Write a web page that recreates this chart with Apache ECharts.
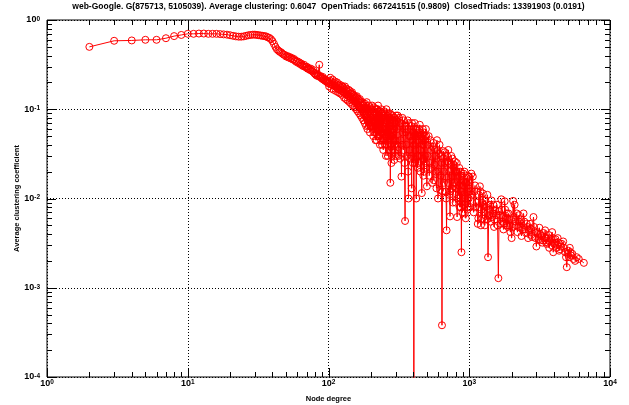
<!DOCTYPE html>
<html><head><meta charset="utf-8">
<script src="https://cdn.jsdelivr.net/npm/echarts@6/dist/echarts.min.js"></script>
<style>html,body{margin:0;padding:0;background:#fff}#c{width:629px;height:405px}</style>
</head><body><div id="c"></div>
<script>
const titleText = 'web-Google. G(875713, 5105039). Average clustering: 0.6047  OpenTriads: 667241515 (0.9809)  ClosedTriads: 13391903 (0.0191)';
const xAxisName = 'Node degree';
const yAxisName = 'Average clustering coefficient';

// [node degree, average clustering coefficient]
const headPoints = [
  [2,0.50],[3,0.585],[4,0.59],[5,0.60],[6,0.60],[7,0.625],[8,0.66],[9,0.68],[10,0.70],
  [11,0.70],[12,0.705],[13,0.705],[14,0.70],[15,0.70],[16,0.70],[17,0.695],[18,0.69],[19,0.685],[20,0.675],
  [21,0.665],[22,0.655],[23,0.65],[24,0.65],[25,0.655],[26,0.665],[27,0.675],[28,0.68],[29,0.685],[30,0.685],
  [31,0.68],[32,0.675],[33,0.67],[34,0.665],[35,0.66],[36,0.655],[37,0.64],[38,0.63],[39,0.61],[40,0.58]
];
const kneePoints = [
  [41,0.54],[42,0.50],[43,0.47],[44,0.455],[45,0.44],[46,0.435],[47,0.42],[48,0.41],[49,0.405],[50,0.39],
  [51,0.395],[52,0.38],[53,0.385],[54,0.37],[55,0.375],[56,0.36],[57,0.365],[58,0.35],[59,0.34],[60,0.345],
  [61,0.33],[62,0.335],[63,0.32],[64,0.325],[65,0.31],[66,0.305],[67,0.315],[68,0.30],[69,0.295],[70,0.30],
  [71,0.285],[72,0.29],[73,0.28],[74,0.275],[75,0.285],[76,0.27],[77,0.265],[78,0.275],[79,0.255],[80,0.25],
  [81,0.245],[82,0.24],[83,0.25],[84,0.235],[85,0.24],[86,0.315],[87,0.23],[88,0.235],[89,0.225],[90,0.22],
  [91,0.23],[92,0.215],[93,0.22],[94,0.21],[95,0.215],[96,0.205],[97,0.21],[98,0.20],[99,0.205],[100,0.195]
];
const midPoints = [
  [102,0.21],[104,0.19],[106,0.20],[108,0.185],[110,0.195],[112,0.18],[114,0.19],[116,0.17],[118,0.185],[120,0.165],
  [122,0.175],[124,0.16],[126,0.18],[128,0.155],[130,0.165],[132,0.15],[134,0.17],[136,0.145],[138,0.155],[140,0.14],
  [142,0.16],[144,0.13],[146,0.15],[148,0.135],[150,0.145],[152,0.125],[154,0.14],[156,0.12],[158,0.135],[160,0.115],
  [162,0.13],[164,0.11],[166,0.125],[168,0.105],[170,0.12],[172,0.10],[174,0.115],[176,0.095],[178,0.11],[180,0.09],
  [182,0.115],[184,0.085],[186,0.105],[188,0.08],[190,0.10],[192,0.075],[194,0.11],[196,0.07],[198,0.105],[200,0.065],
  [203,0.10],[206,0.06],[209,0.095],[212,0.055],[215,0.09],[218,0.065],[221,0.10],[224,0.05],[227,0.085],[230,0.06],
  [233,0.095],[236,0.045],[239,0.08],[242,0.055],[245,0.035],[248,0.075],[251,0.09],[254,0.05],[257,0.08],[260,0.04],
  [263,0.085],[266,0.055],[269,0.075],[272,0.045],[275,0.015],[278,0.087],[281,0.05],[284,0.07],[287,0.035],[290,0.08],
  [293,0.027],[296,0.065],[299,0.045],[302,0.085]
];
const midPointsB = [
  [101,0.18],[103,0.225],[105,0.17],[107,0.215],[109,0.165],[111,0.205],[113,0.16],[115,0.2],[117,0.155],[119,0.19],
  [121,0.15],[123,0.185],[125,0.145],[127,0.175],[129,0.135],[131,0.18],[133,0.13],[135,0.16],[137,0.125],[139,0.165],
  [141,0.12],[143,0.15],[145,0.115],[147,0.155],[149,0.11],[151,0.14],[153,0.105],[155,0.13],[157,0.1],[159,0.14],
  [161,0.095],[163,0.12],[165,0.09],[167,0.13],[169,0.085],[171,0.11],[173,0.08],[175,0.12],[177,0.075],[179,0.105],
  [181,0.07],[183,0.1],[185,0.065],[187,0.12],[189,0.06],[191,0.095],[193,0.065],[195,0.09],[197,0.055],[199,0.1],
  [201,0.08],[204,0.11],[207,0.07],[210,0.105],[213,0.075],[216,0.045],[219,0.1],[222,0.07],[225,0.11],[228,0.05],
  [231,0.08],[234,0.065],[237,0.1],[240,0.04],[243,0.085],[246,0.06],[249,0.095],[252,0.04],[255,0.07],[258,0.1],
  [261,0.06],[264,0.03],[267,0.08],[270,0.05],[273,0.09],[276,0.04],[279,0.065],[282,0.03],[285,0.085],[288,0.055],
  [291,0.07],[294,0.04],[297,0.08],[300,0.03],
  [202,0.065],[205,0.09],[208,0.05],[211,0.085],[214,0.06],[217,0.1],[220,0.045],[223,0.08],[226,0.06],[229,0.095],
  [232,0.04],[235,0.075],[238,0.055],[241,0.09],[244,0.06],[247,0.045],[250,0.08],[253,0.065],[256,0.03],[259,0.075],
  [262,0.05],[265,0.09],[268,0.035],[271,0.065],[274,0.08],[277,0.05],[280,0.025],[283,0.06],[286,0.075],[289,0.045],
  [292,0.06],[295,0.033],[298,0.07]
];
const spreadPoints = [
  [305,0.04],[310,0.085],[315,0.03],[320,0.065],[325,0.045],[330,0.0176],[335,0.08],[340,0.035],[345,0.06],[350,0.0056],
  [355,0.055],[360,0.03],[365,0.075],[370,0.01],[375,0.05],[380,0.028],[385,0.065],[390,0.013],[395,0.045],[400,0.06],
  [404,0.000001],[408,0.05],[412,0.025],[416,0.06],[420,0.01],[425,0.045],[430,0.022],[435,0.055],[440,0.03],[445,0.067],
  [450,0.02],[455,0.05],[460,0.0115],[465,0.04],[470,0.028],[475,0.055],[480,0.02],[485,0.045],[490,0.025],[495,0.05],
  [500,0.0137],
  [510,0.04],[520,0.018],[530,0.045],[540,0.022],[550,0.038],[560,0.016],[570,0.035],[580,0.02],[590,0.045],[600,0.01],
  [610,0.032],[620,0.0125],[630,0.03],[640,0.00038],[650,0.028],[660,0.015],[670,0.033],[680,0.012],[690,0.0044],[700,0.026],
  [710,0.035],[720,0.011],[730,0.0063],[740,0.024],[750,0.013],[760,0.028],[770,0.0137],[780,0.022],[790,0.026],[800,0.009],
  [810,0.02],[820,0.0062],[830,0.018],[840,0.011],[850,0.022],[860,0.0176],[870,0.008],[880,0.0025],[890,0.016],[900,0.01],
  [910,0.019],[920,0.0085],[930,0.0068],[940,0.015],[950,0.009],[960,0.017],[970,0.0075],[980,0.014],[990,0.01],[1000,0.0175]
];
const spreadPointsB = [
  [307,0.06],[312,0.035],[317,0.08],[322,0.028],[327,0.07],[332,0.04],[337,0.055],[342,0.075],[347,0.025],[352,0.065],
  [357,0.04],[362,0.06],[367,0.02],[372,0.07],[377,0.035],[382,0.05],[387,0.03],[392,0.07],[397,0.025],[402,0.055],
  [406,0.04],[410,0.07],[414,0.035],[418,0.05],[423,0.06],[427,0.03],[432,0.05],[437,0.025],[442,0.06],[447,0.035],
  [452,0.055],[457,0.03],[462,0.045],[467,0.06],[472,0.018],[477,0.04],[482,0.05],[487,0.03],[492,0.06],[497,0.022],
  [505,0.03],[515,0.05],[525,0.025],[535,0.035],[545,0.015],[555,0.042],[565,0.024],[575,0.03],[585,0.013],[595,0.035],
  [605,0.02],[615,0.04],[625,0.018],[635,0.025],[645,0.012],[655,0.034],[665,0.02],[675,0.025],[685,0.01],[695,0.03],
  [705,0.015],[715,0.025],[725,0.02],[735,0.012],[745,0.03],[755,0.018],[765,0.009],[775,0.024],[785,0.015],[795,0.02],
  [805,0.013],[815,0.025],[825,0.01],[835,0.02],[845,0.014],[855,0.008],[865,0.02],[875,0.012],[885,0.018],[895,0.007],
  [905,0.014],[915,0.011],[925,0.02],[935,0.01],[945,0.006],[955,0.015],[965,0.012],[975,0.018],[985,0.008],[995,0.013]
];
const tailPoints = [
  [1035,0.019],[1060,0.0176],[1090,0.012],[1110,0.008],[1150,0.0052],[1170,0.011],[1190,0.0137],[1210,0.005],[1230,0.009],[1250,0.0114],
  [1280,0.007],[1300,0.0095],[1330,0.0058],[1360,0.0022],[1390,0.0075],[1420,0.0055],[1440,0.0095],[1470,0.0068],[1500,0.0048],[1530,0.0075],
  [1570,0.0085],[1610,0.00128],[1650,0.0065],[1690,0.0098],[1720,0.0055],[1750,0.0045],[1785,0.0093],[1820,0.006],[1850,0.0068],[1880,0.0048],
  [1920,0.0058],[1960,0.0042],[2000,0.0036],[2050,0.0094],[2100,0.0085],[2150,0.005],[2200,0.0042],[2250,0.0065],[2300,0.0047],[2350,0.0038],
  [2430,0.0068],[2500,0.0045],[2560,0.0052],[2620,0.0036],[2700,0.0052],[2760,0.0039],[2860,0.0062],[2920,0.0043],[3000,0.0029],[3080,0.004],
  [3150,0.0047],[3220,0.0034],[3300,0.0032],[3380,0.0041],[3460,0.0044],[3540,0.0031],[3620,0.0036],[3700,0.0028],[3800,0.0035],[3880,0.0042],
  [3950,0.0025],[4050,0.0032],[4150,0.0028],[4250,0.0036],[4350,0.0026],[4480,0.0029],[4650,0.0033],[4800,0.0025],[4930,0.0017],[5050,0.0026],
  [5180,0.0028],[5300,0.0023],[5500,0.0021],[5800,0.0022],[6520,0.0019]
];
const tailPointsB = [
  [1010,0.012],[1020,0.008],[1045,0.011],[1075,0.007],[1100,0.014],[1130,0.009],[1160,0.006],[1180,0.008],[1200,0.012],[1220,0.0075],
  [1240,0.006],[1265,0.0085],[1290,0.005],[1315,0.008],[1345,0.011],[1375,0.0065],[1405,0.0085],[1455,0.0062],[1485,0.0085],[1515,0.0058],
  [1550,0.0065],[1590,0.005],[1630,0.0072],[1670,0.0052],[1705,0.0075],[1735,0.0062],[1770,0.0052],[1800,0.0075],[1835,0.005],[1865,0.006],
  [1900,0.0068],[1940,0.005],[1980,0.0058],[2025,0.0048],[2075,0.0062],[2125,0.0055],[2175,0.0068],[2225,0.0048],[2275,0.0055],[2325,0.0058],
  [2390,0.0045],[2465,0.0055],[2530,0.0041],[2590,0.0048],[2660,0.0044],[2730,0.0046],[2800,0.0037],[2890,0.0048],[2960,0.0036],[3040,0.0042],
  [3110,0.0035],[3190,0.004],[3260,0.0038],[3340,0.0034],[3420,0.0037],[3500,0.0036],[3580,0.0032],[3660,0.0039],[3750,0.0033],[3840,0.003],
  [3920,0.0036],[4000,0.0031],[4100,0.0035],[4200,0.003],[4300,0.0032],[4420,0.0027],[4560,0.0031],[4720,0.0028],[4870,0.0022],[5000,0.0024],
  [5120,0.0022],[5240,0.0025],[5400,0.0024],[5650,0.0020],[6000,0.0021]
];

const xMin = 1, xMax = 10000, yMin = 1e-4, yMax = 1;
const xTicks = [1,2,3,4,5,6,7,8,9,10,20,30,40,50,60,70,80,90,100,200,300,400,500,600,700,800,900,1000,2000,3000,4000,5000,6000,7000,8000,9000,10000];
const yTicks = [1e-4,2e-4,3e-4,4e-4,5e-4,6e-4,7e-4,8e-4,9e-4,1e-3,2e-3,3e-3,4e-3,5e-3,6e-3,7e-3,8e-3,9e-3,1e-2,2e-2,3e-2,4e-2,5e-2,6e-2,7e-2,8e-2,9e-2,0.1,0.2,0.3,0.4,0.5,0.6,0.7,0.8,0.9,1];

const points = headPoints.concat(kneePoints, midPoints, midPointsB, spreadPoints, spreadPointsB, tailPoints, tailPointsB)
  .sort((a, b) => a[0] - b[0]);
const FONT = 'Liberation Sans, Arial, Helvetica, sans-serif';

function powLabel(v) {
  const e = Math.round(Math.log10(v));
  return '{b|10}{s|' + e + '}';
}
const richPow = {
  b: { fontSize: 9, fontWeight: 'bold', fontFamily: FONT, color: '#000', lineHeight: 9, verticalAlign: 'bottom', padding: [3, 0, 0, 0] },
  s: { fontSize: 6.5, fontWeight: 'bold', fontFamily: FONT, color: '#000', lineHeight: 7, verticalAlign: 'top' }
};

function tickSeries(values, dir) {
  return {
    type: 'custom', coordinateSystem: 'cartesian2d', silent: true, clip: false, z: 6,
    animation: false,
    data: values.map(v => dir === 'x' ? [v, 0.01] : [10, v]),
    renderItem: function (params, api) {
      const v = api.value(dir === 'x' ? 0 : 1);
      const lg = Math.log10(v);
      const major = Math.abs(lg - Math.round(lg)) < 1e-6;
      const len = major ? 9 : 5;
      const st = { stroke: '#000', lineWidth: 1 };
      if (dir === 'x') {
        const a = api.coord([v, yMin]), b = api.coord([v, yMax]);
        const x = Math.round(a[0]) + 0.5;
        return { type: 'group', children: [
          { type: 'line', shape: { x1: x, y1: a[1], x2: x, y2: a[1] - len }, style: st },
          { type: 'line', shape: { x1: x, y1: b[1], x2: x, y2: b[1] + len }, style: st }
        ] };
      } else {
        const a = api.coord([xMin, v]), b = api.coord([xMax, v]);
        const y = Math.round(a[1]) + 0.5;
        return { type: 'group', children: [
          { type: 'line', shape: { x1: a[0], y1: y, x2: a[0] + len, y2: y }, style: st },
          { type: 'line', shape: { x1: b[0], y1: y, x2: b[0] - len, y2: y }, style: st }
        ] };
      }
    }
  };
}

const chart = echarts.init(document.getElementById('c'), null, { renderer: 'canvas' });
chart.setOption({
  animation: false,
  backgroundColor: '#fff',
  grid: { left: 47, right: 19, top: 20, bottom: 28, containLabel: false, outerBoundsMode: 'none',
          show: true, borderColor: '#000', borderWidth: 1, backgroundColor: 'transparent' },
  graphic: [{
    type: 'text', x: 328.5, y: 7, z: 10,
    style: { text: titleText, fontSize: 8.5, fontWeight: 'bold', fontFamily: FONT, fill: '#000', align: 'center', verticalAlign: 'middle' }
  }],
  xAxis: {
    type: 'log', logBase: 10, min: xMin, max: xMax, splitNumber: 4,
    name: xAxisName, nameLocation: 'middle', nameGap: 18, nameMoveOverlap: false,
    nameTextStyle: { fontSize: 7.5, fontWeight: 'bold', fontFamily: FONT, color: '#000' },
    axisLine: { show: false }, axisTick: { show: false },
    axisLabel: { formatter: powLabel, rich: richPow, margin: 2, color: '#000' },
    splitLine: { show: true, lineStyle: { color: '#000', width: 1, type: [1, 2] } }
  },
  yAxis: {
    type: 'log', logBase: 10, min: yMin, max: yMax, splitNumber: 4,
    name: yAxisName, nameLocation: 'middle', nameGap: 26, nameMoveOverlap: false,
    nameTextStyle: { fontSize: 7.5, fontWeight: 'bold', fontFamily: FONT, color: '#000' },
    axisLine: { show: false }, axisTick: { show: false },
    axisLabel: { formatter: powLabel, rich: richPow, margin: 7, color: '#000' },
    splitLine: { show: true, lineStyle: { color: '#000', width: 1, type: [1, 2] } }
  },
  series: [
    {
      type: 'line', data: points, clip: true, z: 3,
      symbol: 'circle', symbolSize: 7, showSymbol: true,
      lineStyle: { color: '#ff0000', width: 1 },
      itemStyle: { color: 'rgba(0,0,0,0)', borderColor: '#ff0000', borderWidth: 1 },
      emphasis: { disabled: true }
    },
    tickSeries(xTicks, 'x'),
    tickSeries(yTicks, 'y')
  ]
});
</script></body></html>
